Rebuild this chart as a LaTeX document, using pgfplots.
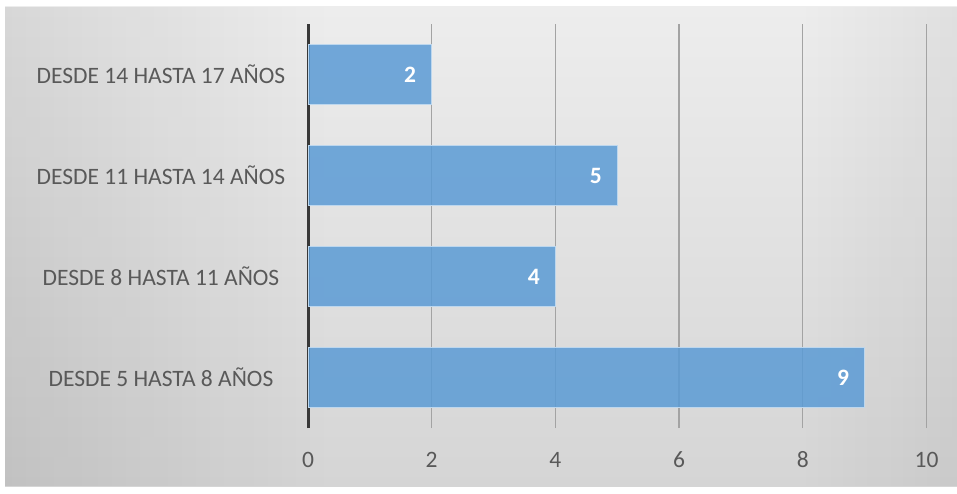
\documentclass[border=0pt]{standalone}
\usepackage{fontspec}
\setmainfont{Carlito}
\usepackage{pgfplots}
\usetikzlibrary{fadings}
\pgfplotsset{compat=1.18}
\definecolor{txt}{HTML}{595959}
\definecolor{barblue}{HTML}{5B9BD5}
\definecolor{gridc}{HTML}{A3A3A3}
\definecolor{bgtop}{HTML}{EDEDED}
\definecolor{bgmid}{HTML}{F0F0F0}
\definecolor{bgbot}{HTML}{D5D5D5}
\begin{document}
\begin{tikzpicture}[x=1pt,y=1pt]
\useasboundingbox (0,0) rectangle (957,493);
\fill[white] (0,0) rectangle (957,493);
\shade[top color=bgtop, middle color=bgmid, bottom color=bgbot] (5,7) rectangle (957,486);
\fill[black, opacity=0.09, path fading=east] (5,7) rectangle (330,486);
\fill[black, opacity=0.05, path fading=west] (800,7) rectangle (957,486);
\begin{axis}[
  at={(308pt,65pt)}, anchor=south west,
  scale only axis, width=618.5pt, height=404pt,
  xmin=0, xmax=10, ymin=-0.5, ymax=3.5,
  xbar, bar width=60pt,
  axis y line*=left, axis x line*=bottom,
  x axis line style={draw=none},
  y axis line style={draw=black!78, line width=3pt},
  xtick={0,2,4,6,8,10}, ytick={0,1,2,3},
  yticklabels={DESDE 5 HASTA 8 AÑOS, DESDE 8 HASTA 11 AÑOS, DESDE 11 HASTA 14 AÑOS, DESDE 14 HASTA 17 AÑOS},
  major tick length=0pt,
  xmajorgrids, grid style={gridc, line width=1.3pt},
  /pgf/number format/assume math mode=true,
  tick label style={font=\fontsize{23.5}{28}\selectfont, text=txt},
  xticklabel style={anchor=base, yshift=-39.5pt},
  yticklabel style={anchor=center, inner sep=0pt, xshift=-147pt},
  nodes near coords,
  nodes near coords style={font=\bfseries\fontsize{23.5}{28}\selectfont, text=white, text opacity=1, anchor=center, xshift=-21.5pt},
]
\addplot[fill=barblue, fill opacity=0.85, draw=white!60!barblue, line width=1pt] coordinates {(9,0) (4,1) (5,2) (2,3)};
\end{axis}
\end{tikzpicture}
\end{document}
